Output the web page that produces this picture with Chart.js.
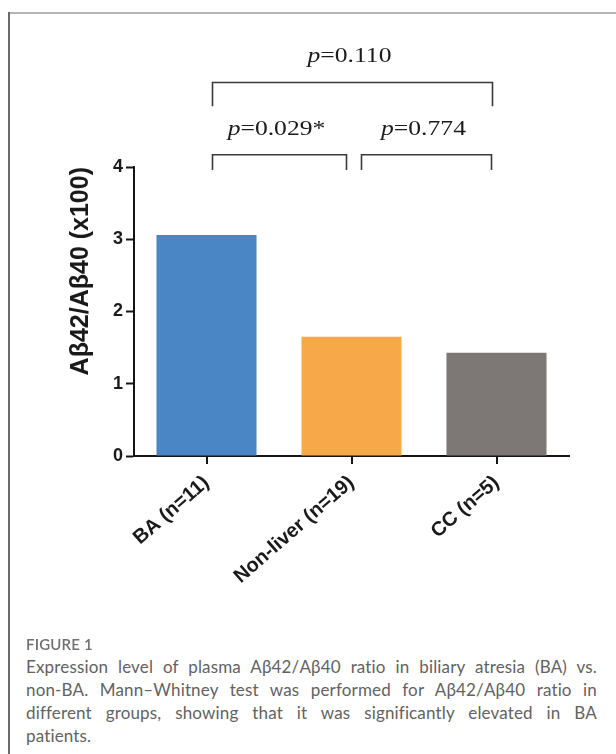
<!DOCTYPE html>
<html>
<head>
<meta charset="utf-8">
<script src="https://cdn.jsdelivr.net/npm/chart.js@4.4.1/dist/chart.umd.min.js"></script>
<style>
  html, body { margin: 0; padding: 0; background: #fff; }
  body { width: 616px; height: 754px; position: relative; overflow: hidden; }
  #frameTop { position: absolute; left: 9px; right: 0; top: 12px; height: 2px; background: #b4b4b4; }
  #frameLeft { position: absolute; left: 8px; top: 12px; bottom: 0; width: 2px; background: #6a6a6a; }
  #plot { position: absolute; left: 0; top: 0; width: 616px; height: 640px; }
  .fig { position: absolute; left: 26px; top: 636px; font: 600 15px Lato, sans-serif; color: #707070; line-height: 17px; letter-spacing: 0.2px; }
  .caption { position: absolute; left: 26px; top: 655px; width: 571px; font: 17px Lato, sans-serif; color: #626262; line-height: 23px; letter-spacing: 0.15px; }
  .caption div { text-align: justify; text-align-last: justify; }
  .caption div.last { text-align-last: left; }
</style>
</head>
<body>
<div id="frameTop"></div>
<div id="frameLeft"></div>
<div id="plot"><canvas id="chart" width="616" height="640"></canvas></div>
<div class="fig">FIGURE 1</div>
<div class="caption">
  <div>Expression level of plasma Aβ42/Aβ40 ratio in biliary atresia (BA) vs.</div>
  <div>non-BA. Mann–Whitney test was performed for Aβ42/Aβ40 ratio in</div>
  <div>different groups, showing that it was significantly elevated in BA</div>
  <div class="last">patients.</div>
</div>
<script>
const categories = ["BA (n=11)", "Non-liver (n=19)", "CC (n=5)"];
const ratios = [3.06, 1.65, 1.43];
const yTicks = [0, 1, 2, 3, 4];
const comparisons = [[0, 1], [1, 2], [0, 2]];
const pValues = ["0.029*", "0.774", "0.110"];

const barColors = ["#4a86c6", "#f7a94a", "#7d7875"];
const axisColor = "#151515";

// p-value text: italic "p", upright rest, slightly widened like the original figure
function drawP(ctx, text, cx, base, o) {
  ctx.save();
  ctx.translate(cx, base);
  ctx.scale(o.stretch, 1);
  ctx.fillStyle = o.textColor;
  ctx.textBaseline = "alphabetic";
  ctx.textAlign = "left";
  const italic = "italic " + o.size + 'px "Liberation Serif"';
  const upright = o.size + 'px "Liberation Serif"';
  const rest = "=" + text;
  ctx.font = italic;
  const wp = ctx.measureText("p").width;
  ctx.font = upright;
  const wr = ctx.measureText(rest).width;
  const sx = -(wp + wr) / 2;
  ctx.font = italic;
  ctx.fillText("p", sx, 0);
  ctx.font = upright;
  ctx.fillText(rest, sx + wp, 0);
  ctx.restore();
}

const bracketPlugin = {
  id: "brackets",
  afterDraw(chart, args, opts) {
    const { ctx } = chart;
    const x = chart.scales.x;
    const y = chart.scales.y;
    ctx.save();
    // category tick marks under each bar
    ctx.strokeStyle = axisColor;
    ctx.lineWidth = 2;
    categories.forEach((c, i) => {
      const px = Math.round(x.getPixelForValue(i));
      ctx.beginPath();
      ctx.moveTo(px, y.bottom);
      ctx.lineTo(px, y.bottom + opts.tickLength);
      ctx.stroke();
    });
    ctx.strokeStyle = opts.color;
    ctx.lineWidth = opts.lineWidth;
    comparisons.forEach((pair, i) => {
      const lvl = opts.levels[i];
      const x1 = x.getPixelForValue(pair[0]) + opts.insets[i][0];
      const x2 = x.getPixelForValue(pair[1]) - opts.insets[i][1];
      const yTop = y.getPixelForValue(lvl.top);
      const yFoot = y.getPixelForValue(lvl.foot);
      ctx.beginPath();
      ctx.moveTo(x1, yFoot);
      ctx.lineTo(x1, yTop);
      ctx.lineTo(x2, yTop);
      ctx.lineTo(x2, yFoot);
      ctx.stroke();
      drawP(ctx, pValues[i], (x1 + x2) / 2 + opts.textShift, yTop - opts.textGap, opts);
    });
    ctx.restore();
  }
};

new Chart(document.getElementById("chart"), {
  type: "bar",
  data: {
    labels: categories,
    datasets: [
      {
        data: ratios,
        backgroundColor: barColors,
        borderWidth: 0,
        barPercentage: 0.69,
        categoryPercentage: 1.0,
      },
    ],
  },
  options: {
    responsive: false,
    animation: false,
    layout: { padding: { top: 167, right: 47, left: 0, bottom: 0 } },
    plugins: {
      legend: { display: false },
      tooltip: { enabled: false },
      brackets: {
        color: "#3a3a3a",
        lineWidth: 1.6,
        textColor: "#1a1a1a",
        size: 21,
        stretch: 1.22,
        textGap: 20,
        textShift: -3,
        tickLength: 8,
        insets: [[6, 5], [10, 5], [6, 4]],
        levels: [
          { top: 4.17, foot: 3.96 },
          { top: 4.17, foot: 3.96 },
          { top: 5.17, foot: 4.84 },
        ],
      },
    },
    scales: {
      x: {
        afterFit(scale) { scale.height = 184; },
        grid: { display: true, offset: false, drawOnChartArea: false, drawTicks: false },
        border: { display: true, color: axisColor, width: 2 },
        ticks: {
          autoSkip: false,
          minRotation: 41,
          maxRotation: 41,
          padding: 15,
          color: "#1a1a1a",
          font: { family: "Liberation Sans", weight: "bold", size: 20 },
        },
      },
      y: {
        min: 0,
        max: 4,
        afterFit(scale) { scale.width = 134; },
        afterBuildTicks(scale) { scale.ticks = yTicks.map(v => ({ value: v })); },
        grid: { drawOnChartArea: false, drawTicks: true, tickLength: 8, tickWidth: 2, tickColor: axisColor },
        border: { display: true, color: axisColor, width: 2 },
        ticks: {
          padding: 3,
          color: "#1a1a1a",
          font: { family: "Liberation Sans", weight: "bold", size: 18 },
        },
        title: {
          display: true,
          text: "Aβ42/Aβ40 (x100)",
          align: "end",
          color: "#1a1a1a",
          padding: { top: 66 },
          font: { family: "Liberation Sans", weight: "bold", size: 25 },
        },
      },
    },
  },
  plugins: [bracketPlugin],
});
</script>
</body>
</html>
